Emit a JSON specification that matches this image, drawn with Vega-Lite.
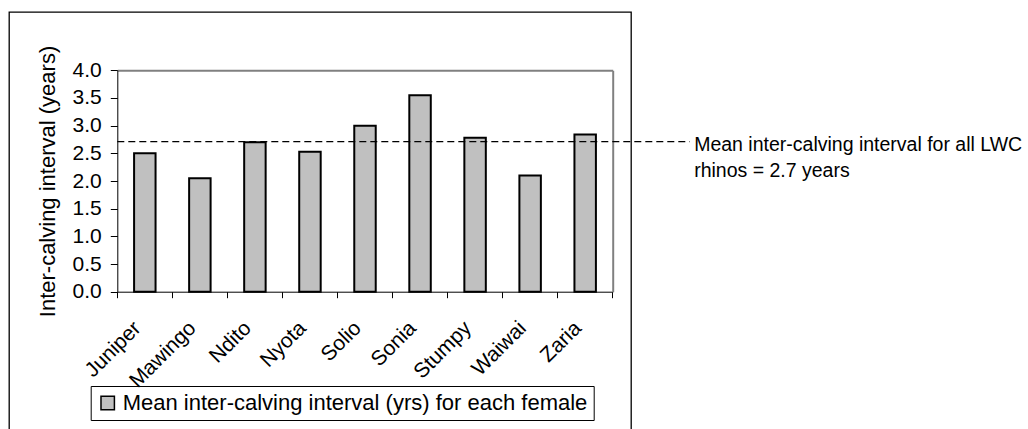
{
  "$schema": "https://vega.github.io/schema/vega-lite/v6.json",
  "autosize": {"type": "none"},
  "width": 622,
  "height": 430,
  "padding": {"left": 9, "top": 12, "right": 397, "bottom": 0},
  "background": "white",
  "config": {
    "font": "Liberation Sans",
    "view": {"stroke": "#000", "strokeWidth": 1.3},
    "axis": {"grid": false}
  },
  "datasets": {
    "females": [
      {"female": "Juniper", "interval": 2.50},
      {"female": "Mawingo", "interval": 2.05},
      {"female": "Ndito", "interval": 2.70},
      {"female": "Nyota", "interval": 2.53},
      {"female": "Solio", "interval": 3.00},
      {"female": "Sonia", "interval": 3.55},
      {"female": "Stumpy", "interval": 2.78},
      {"female": "Waiwai", "interval": 2.10},
      {"female": "Zaria", "interval": 2.84}
    ],
    "overall": [{"mean": 2.71}]
  },
  "resolve": {"scale": {"x": "independent"}, "axis": {"x": "independent", "y": "independent"}},
  "layer": [
    {
      "data": {"name": "females"},
      "mark": {"type": "bar", "width": {"band": 0.39}, "stroke": "#000", "strokeWidth": 2},
      "encoding": {
        "x": {
          "field": "female", "type": "nominal", "sort": null,
          "scale": {"range": [108.3, 603.7], "paddingInner": 0, "paddingOuter": 0},
          "axis": {
            "orient": "bottom", "offset": -150.3, "title": null,
            "domainColor": "#000", "domainWidth": 1,
            "tickColor": "#000", "tickSize": 6, "bandPosition": 1, "tickExtra": true,
            "labelAngle": -45, "labelAlign": "right", "labelBaseline": "middle",
            "labelPadding": 27, "labelOffset": -7,
            "labelFontSize": 21, "labelColor": "#000"
          }
        },
        "y": {
          "field": "interval", "type": "quantitative",
          "scale": {"domain": [0, 4], "range": [279.7, 58.3], "nice": false, "zero": true},
          "axis": {
            "orient": "left", "offset": -108.3,
            "title": "Inter-calving interval (years)",
            "titleFontSize": 22, "titleFontWeight": "normal", "titleColor": "#000", "titlePadding": 13,
            "values": [0, 0.5, 1, 1.5, 2, 2.5, 3, 3.5, 4], "format": ".1f",
            "domainColor": "#000", "domainWidth": 1,
            "tickColor": "#000", "tickSize": 7, "labelPadding": 9,
            "labelFontSize": 21, "labelColor": "#000"
          }
        },
        "color": {
          "datum": "Mean inter-calving interval (yrs) for each female",
          "type": "nominal",
          "scale": {"range": ["#c0c0c0"]},
          "legend": {
            "orient": "none", "legendX": 81.7, "legendY": 374,
            "title": null, "strokeColor": "#000", "padding": 6,
            "symbolType": "square", "symbolSize": 180,
            "symbolStrokeColor": "#000", "symbolStrokeWidth": 1.5,
            "labelFontSize": 22, "labelColor": "#000", "labelOffset": 4, "labelLimit": 0
          }
        }
      }
    },
    {
      "data": {"name": "overall"},
      "layer": [
        {
          "mark": {"type": "rule", "stroke": "#000", "strokeWidth": 1.3, "strokeDash": [7, 4]},
          "encoding": {
            "x": {
              "datum": 0, "type": "quantitative",
              "scale": {"domain": [0, 9], "range": [108.3, 603.7], "nice": false, "zero": false},
              "axis": {"orient": "top", "offset": -58.3, "title": null, "labels": false, "ticks": false,
                       "domainColor": "#808080", "domainWidth": 2}
            },
            "x2": {"datum": 10.4},
            "y": {
              "field": "mean", "type": "quantitative",
              "scale": {"domain": [0, 4], "range": [279.7, 58.3], "nice": false, "zero": true},
              "axis": {"orient": "right", "offset": -18.3, "title": null, "labels": false, "ticks": false,
                       "domainColor": "#808080", "domainWidth": 2}
            }
          }
        },
        {
          "mark": {"type": "text", "align": "left", "baseline": "alphabetic", "dy": 9, "fontSize": 19.5, "lineHeight": 26, "color": "#000"},
          "encoding": {
            "x": {"datum": 10.48, "type": "quantitative"},
            "y": {"field": "mean", "type": "quantitative"},
            "text": {"value": ["Mean inter-calving interval for all LWC", "rhinos = 2.7 years"]}
          }
        }
      ]
    }
  ]
}
